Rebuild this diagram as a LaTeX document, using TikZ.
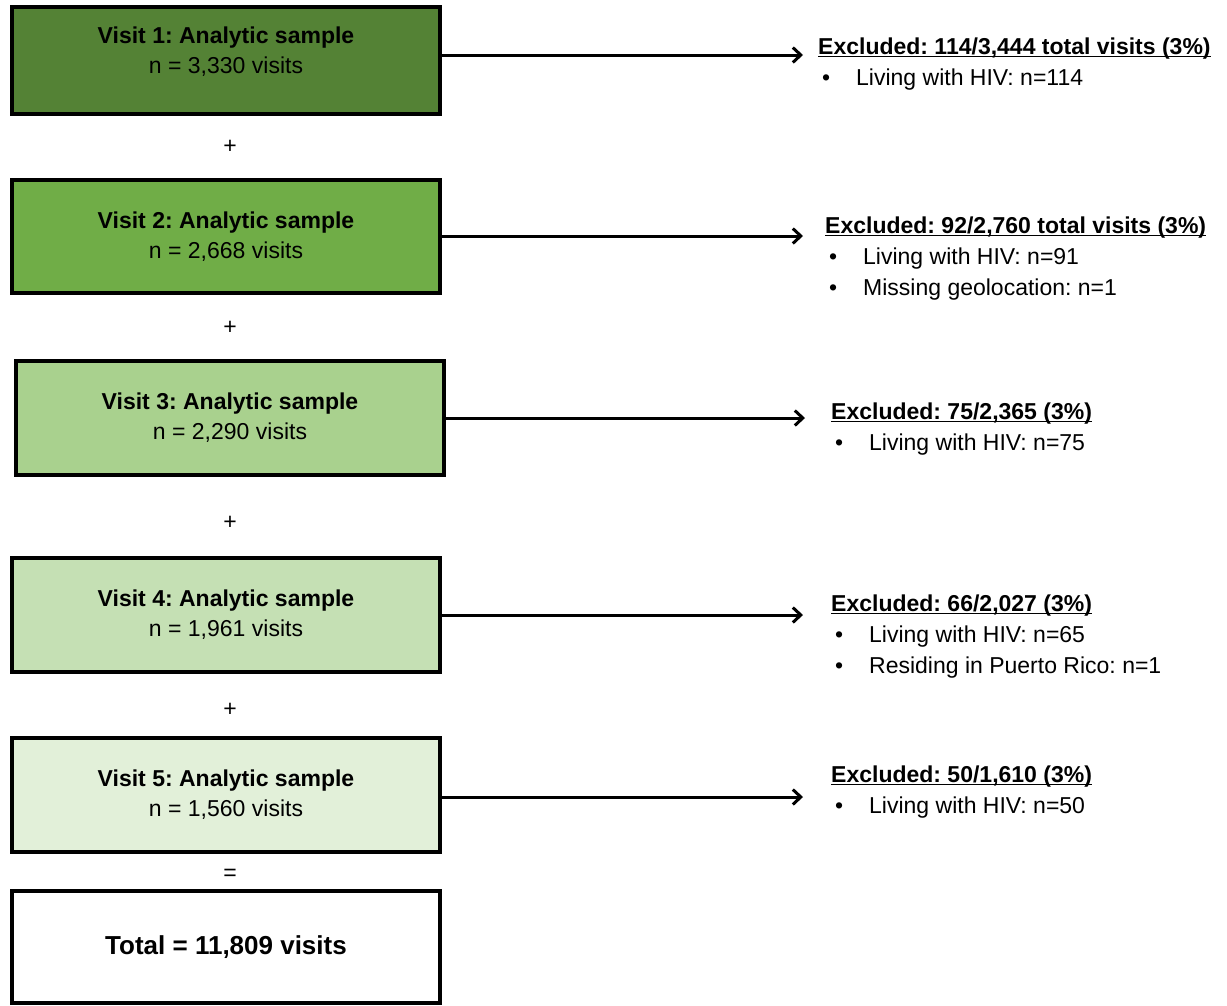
\documentclass[tikz,border=0pt]{standalone}
\usepackage{fontspec}
\setmainfont{Liberation Sans}
\usetikzlibrary{arrows.meta}
\frenchspacing

\definecolor{visitone}{HTML}{548235}
\definecolor{visittwo}{HTML}{70AD47}
\definecolor{visitthree}{HTML}{A9D18E}
\definecolor{visitfour}{HTML}{C5E0B4}
\definecolor{visitfive}{HTML}{E2F0D9}

\newcommand{\exhead}[1]{\setbox0\hbox{\textbf{#1}}\rlap{\rule[-2.5pt]{\wd0}{1.6pt}}\box0}
\newcommand{\exitem}[1]{\makebox[38pt][l]{\hspace{4pt}\textbullet}#1}

\begin{document}
\begin{tikzpicture}[x=1pt,y=-1pt,
  visitbox/.style={draw=black, line width=4.6pt, minimum width=428pt, inner sep=0pt, align=center, font=\fontsize{23}{30}\selectfont},
  excl/.style={anchor=north west, inner sep=0pt, align=left, font=\fontsize{23}{31}\selectfont},
  sign/.style={inner sep=0pt, font=\fontsize{23}{27}\selectfont},
  exarrow/.style={line width=3pt, -{Straight Barb[length=8pt,width=15pt,line width=3pt]}}]
\useasboundingbox (0,0) rectangle (1227,1005);
\node[visitbox, fill=visitone, minimum height=107pt] (v1) at (226,60.5) {\textbf{Visit 1: Analytic sample}\\n = 3,330 visits\\[-10pt]};
\node[visitbox, fill=visittwo, minimum height=113pt] (v2) at (226,236.5) {\textbf{Visit 2: Analytic sample}\\n = 2,668 visits};
\node[visitbox, fill=visitthree, minimum height=114pt] (v3) at (230,418) {\textbf{Visit 3: Analytic sample}\\n = 2,290 visits};
\node[visitbox, fill=visitfour, minimum height=114pt] (v4) at (226,615) {\textbf{Visit 4: Analytic sample}\\n = 1,961 visits};
\node[visitbox, fill=visitfive, minimum height=114pt] (v5) at (226,795) {\textbf{Visit 5: Analytic sample}\\n = 1,560 visits};
\node[visitbox, fill=white, minimum height=112pt, font=\fontsize{26}{30}\selectfont] (total) at (226,947) {\textbf{Total = 11,809 visits}};
\node[sign] (p1) at (230,147) {+};
\node[sign] (p2) at (230,328) {+};
\node[sign] (p3) at (230,523) {+};
\node[sign] (p4) at (230,710) {+};
\node[sign] (eq) at (230,875) {=};
\coordinate (e1) at (803,55);
\coordinate (e2) at (803,236);
\coordinate (e3) at (805,418);
\coordinate (e4) at (803,615);
\coordinate (e5) at (803,797);
\draw[exarrow] (v1.east |- e1) -- (e1);
\draw[exarrow] (v2.east |- e2) -- (e2);
\draw[exarrow] (v3.east |- e3) -- (e3);
\draw[exarrow] (v4.east |- e4) -- (e4);
\draw[exarrow] (v5.east |- e5) -- (e5);
\node[excl] (x1) at (818,38) {\exhead{Excluded: 114/3,444 total visits (3\%)}\\\exitem{Living with HIV: n=114}};
\node[excl] (x2) at (825,217) {\exhead{Excluded: 92/2,760 total visits (3\%)}\\\exitem{Living with HIV: n=91}\\\exitem{Missing geolocation: n=1}};
\node[excl] (x3) at (831,403) {\exhead{Excluded: 75/2,365 (3\%)}\\\exitem{Living with HIV: n=75}};
\node[excl] (x4) at (831,595) {\exhead{Excluded: 66/2,027 (3\%)}\\\exitem{Living with HIV: n=65}\\\exitem{Residing in Puerto Rico: n=1}};
\node[excl] (x5) at (831,766) {\exhead{Excluded: 50/1,610 (3\%)}\\\exitem{Living with HIV: n=50}};
\end{tikzpicture}
\end{document}
